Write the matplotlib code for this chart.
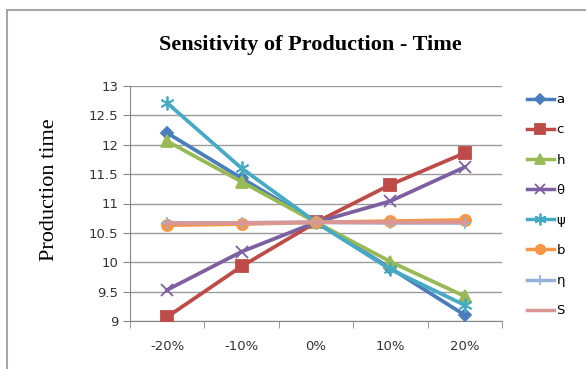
import numpy as np
import matplotlib.pyplot as plt
from matplotlib.lines import Line2D

categories = ["-20%", "-10%", "0%", "10%", "20%"]
series_names = ["a", "c", "h", "θ", "ψ", "b", "η", "S"]
a_vals = [12.20, 11.43, 10.68, 9.90, 9.10]
c_vals = [9.07, 9.93, 10.68, 11.32, 11.86]
h_vals = [12.06, 11.37, 10.68, 10.01, 9.42]
theta_vals = [9.53, 10.18, 10.68, 11.04, 11.62]
psi_vals = [12.71, 11.60, 10.68, 9.88, 9.27]
b_vals = [10.63, 10.65, 10.68, 10.70, 10.72]
eta_vals = [10.67, 10.67, 10.68, 10.67, 10.67]
s_vals = [10.66, 10.67, 10.68, 10.68, 10.68]

all_vals = [a_vals, c_vals, h_vals, theta_vals, psi_vals, b_vals, eta_vals, s_vals]
colors = ["#4A7EBB", "#BE4B48", "#98B954", "#7D60A0", "#46AAC5", "#F79646", "#95B3D7", "#D99694"]
markers = ["D", "s", "^", "x", (6, 2, 0), "o", "+", None]
msizes = [6, 8, 8, 8, 10, 8, 9, 0]

fig = plt.figure(figsize=(5.86, 3.69), dpi=100)
# outer chart border
fig.add_artist(plt.Rectangle((7 / 586, -0.1), 1.1, 1 - 10 / 369 + 0.1,
                             transform=fig.transFigure, fill=False,
                             edgecolor="#A6A6A6", lw=1.5))

ax = fig.add_axes([130 / 586, 1 - 321 / 369, 372 / 586, 235 / 369])
x = np.arange(len(categories))
for vals, col, mk, ms in zip(all_vals, colors, markers, msizes):
    ax.plot(x, vals, color=col, lw=2.7, marker=mk, markersize=ms,
            markeredgewidth=1.3, zorder=3)

ax.set_xlim(-0.5, len(categories) - 0.5)
ax.set_ylim(9, 13)
ax.set_yticks(np.arange(9, 13.01, 0.5))
ax.set_yticklabels(["9", "9.5", "10", "10.5", "11", "11.5", "12", "12.5", "13"])
ax.set_xticks(x)
ax.set_xticklabels(categories)
ax.set_xticks(np.arange(-0.5, len(categories)), minor=True)
ax.tick_params(axis="x", which="major", length=0, pad=14, labelsize=9.5, colors="#333333")
ax.tick_params(axis="x", which="minor", length=5, direction="out", color="#868686")
ax.tick_params(axis="y", length=5, color="#868686", labelsize=9.5, labelcolor="#333333")
ax.grid(axis="y", color="#9A9A9A", lw=1)
ax.set_axisbelow(True)
for sp in ["top", "right"]:
    ax.spines[sp].set_visible(False)
for sp in ["left", "bottom"]:
    ax.spines[sp].set_color("#868686")

fig.text(310 / 586, 1 - 45 / 369, "Sensitivity of Production - Time", ha="center", va="center",
         fontsize=16, fontweight="bold", family="Liberation Serif")
fig.text(50 / 586, 1 - 190 / 369, "Production time", ha="center", va="center",
         rotation=90, fontsize=16, family="Liberation Serif")

handles = [Line2D([0], [0], color=col, lw=2.5, marker=mk, markersize=ms * 0.85,
                  markeredgewidth=1.3)
           for col, mk, ms in zip(colors, markers, msizes)]
fig.legend(handles, series_names, loc="upper left", bbox_to_anchor=(522 / 586, 1 - 88 / 369),
           frameon=False, fontsize=9.5, handlelength=2.0, handletextpad=0.2,
           labelspacing=1.3, borderaxespad=0)

fig.savefig("out.png", dpi=100)
